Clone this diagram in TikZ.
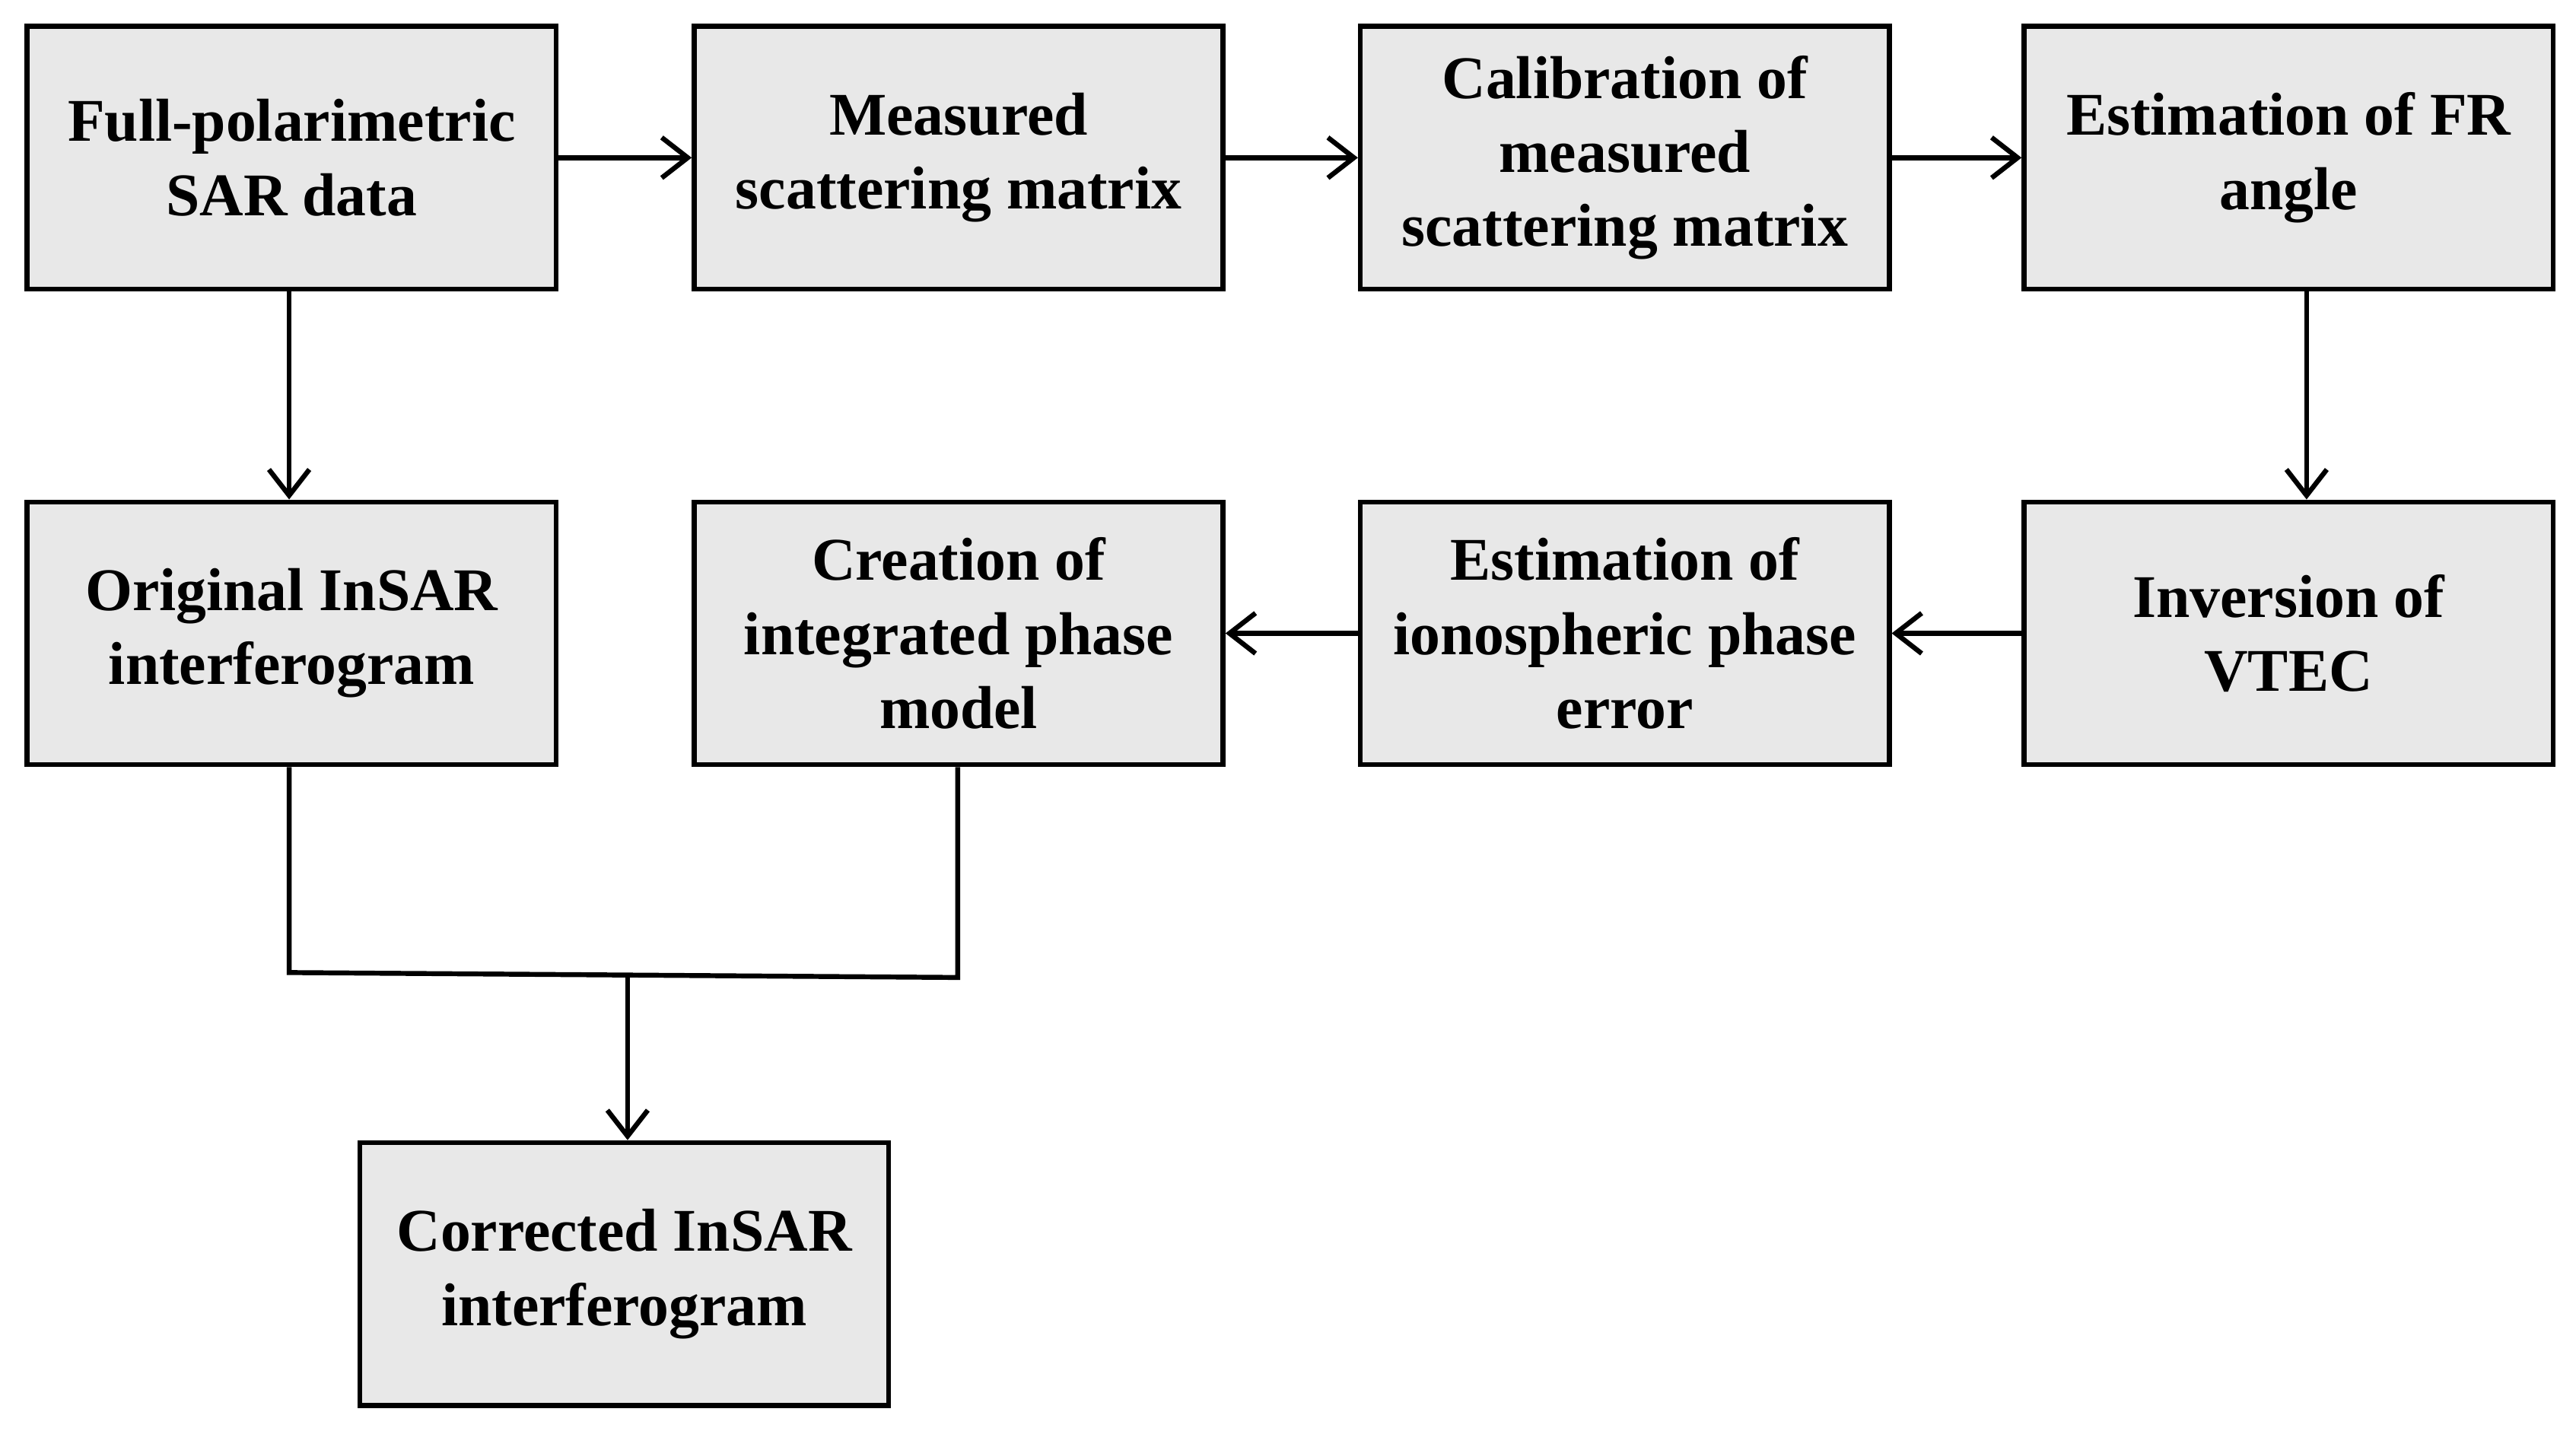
\documentclass[tikz,border=0pt]{standalone}
\usepackage{fontspec}
\setmainfont{Liberation Serif}
\usetikzlibrary{arrows.meta}
\begin{document}
\begin{tikzpicture}[x=0.02cm,y=-0.02cm,
  box/.style={draw,line width=1.7pt,fill=gray!18,minimum width=6.44cm,minimum height=3.2cm,align=center,inner sep=2pt,
    font=\fontsize{21}{25.6}\selectfont\bfseries},
  arr/.style={line width=1.7pt,-{Straight Barb[length=9pt,width=14pt,line width=1.7pt]}},
  ln/.style={line width=1.7pt}]
\useasboundingbox (0,0) rectangle (1568,871);
\node[box] (a) at (177.5,96) {Full-polarimetric\\SAR data};
\node[box] (b) at (583.5,96) {Measured\\scattering matrix};
\node[box] (c) at (989,96) {Calibration of\\measured\\scattering matrix};
\node[box] (d) at (1393,96) {Estimation of FR\\angle};
\node[box] (e) at (177.5,385.5) {Original InSAR\\interferogram};
\node[box] (f) at (583.5,385.5) {Creation of\\integrated phase\\model};
\node[box] (g) at (989,385.5) {Estimation of\\ionospheric phase\\error};
\node[box] (h) at (1393,385.5) {Inversion of\\VTEC};
\node[box] (k) at (380,775.5) {Corrected InSAR\\interferogram};
\coordinate (j1) at (176,592);
\coordinate (j2) at (583,595);
\coordinate (jm) at (382,593.5);
\draw[arr] (a) -- (b);
\draw[arr] (b) -- (c);
\draw[arr] (c) -- (d);
\draw[arr] (a.south -| 176,0) -- (e.north -| 176,0);
\draw[arr] (d.south -| 1404,0) -- (h.north -| 1404,0);
\draw[arr] (h) -- (g);
\draw[arr] (g) -- (f);
\draw[ln] (e.south -| 176,0) -- (j1) -- (j2) -- (f.south -| 583,0);
\draw[arr] (jm) -- (k.north -| 382,0);
\end{tikzpicture}
\end{document}
